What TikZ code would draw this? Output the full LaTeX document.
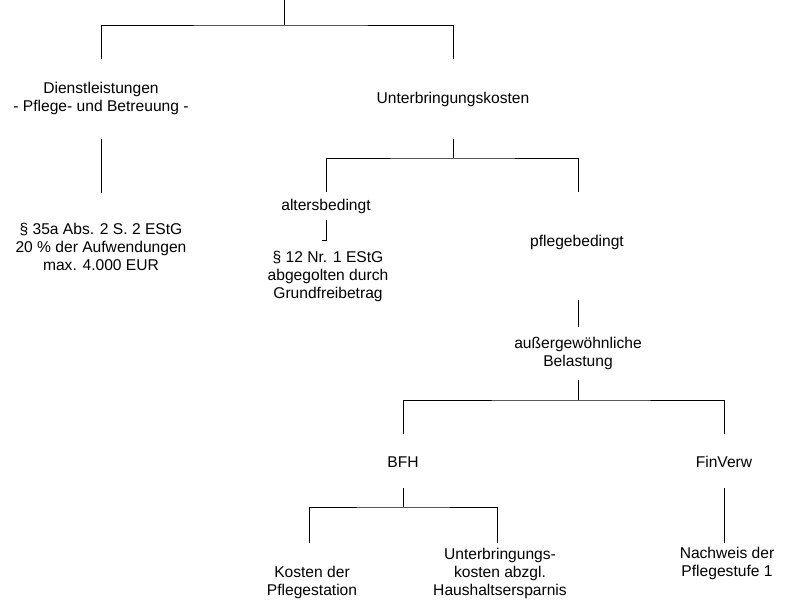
\documentclass[tikz,border=0pt]{standalone}
\usepackage{fontspec}
\setmainfont{Liberation Sans}
\begin{document}
\begin{tikzpicture}[x=1pt,y=-1pt,
  lbl/.style={align=center,inner sep=0pt,font=\fontsize{15.6}{18}\selectfont},
  conn/.style={draw=black,line width=0.9pt}]
\useasboundingbox (0,0) rectangle (798,609);
% nodes
\node[lbl] (dienst) at (101,98) {Dienstleistungen\\- Pflege- und Betreuung -};
\node[lbl] (unterb) at (453,99) {Unterbringungskosten};
\node[lbl] (p35) at (101,247) {§ 35a Abs. 2 S. 2 EStG\\20 \% der Aufwendungen\\max. 4.000 EUR};
\node[lbl] (alters) at (326,206) {altersbedingt};
\node[lbl] (p12) at (328,276) {§ 12 Nr. 1 EStG\\abgegolten durch\\Grundfreibetrag};
\node[lbl] (pflege) at (577,242) {pflegebedingt};
\node[lbl] (aussergew) at (578,353) {außergewöhnliche\\Belastung};
\node[lbl] (bfh) at (403,462) {BFH};
\node[lbl] (finverw) at (724,462) {FinVerw};
\node[lbl] (kosten) at (312,582) {Kosten der\\Pflegestation};
\node[lbl] (unterb2) at (500,573) {Unterbringungs-\\kosten abzgl.\\Haushaltsersparnis};
\node[lbl] (nachweis) at (727,563) {Nachweis der\\Pflegestufe 1};
% connector points
\coordinate (top) at (284,0);
\coordinate (j1) at (284,25);
\coordinate (d1l) at (101,59);
\coordinate (d1r) at (453,59);
\coordinate (dA) at (101,139);
\coordinate (dB) at (101,193);
\coordinate (u1) at (453,139);
\coordinate (j2) at (453,158);
\coordinate (d2l) at (326,192);
\coordinate (d2r) at (578,192);
\coordinate (aA) at (326,220);
\coordinate (aB) at (326,240);
\coordinate (aC) at (322,240);
\coordinate (pA) at (578,300);
\coordinate (pB) at (578,327);
\coordinate (g1) at (578,380);
\coordinate (j3) at (578,400);
\coordinate (d3l) at (403,434);
\coordinate (d3r) at (724,434);
\coordinate (b1) at (403,488);
\coordinate (j4) at (403,507);
\coordinate (d4l) at (309,543);
\coordinate (d4r) at (497,543);
\coordinate (fA) at (724,488);
\coordinate (fB) at (724,543);
% connectors
\draw[conn] (top) -- (j1);
\draw[conn] (d1l) |- (j1) -| (d1r);
\draw[conn] (dA) -- (dB);
\draw[conn] (u1) -- (j2);
\draw[conn] (d2l) |- (j2) -| (d2r);
\draw[conn] (aA) -- (aB) -- (aC);
\draw[conn] (pA) -- (pB);
\draw[conn] (g1) -- (j3);
\draw[conn] (d3l) |- (j3) -| (d3r);
\draw[conn] (b1) -- (j4);
\draw[conn] (d4l) |- (j4) -| (d4r);
\draw[conn] (fA) -- (fB);
\end{tikzpicture}
\end{document}
